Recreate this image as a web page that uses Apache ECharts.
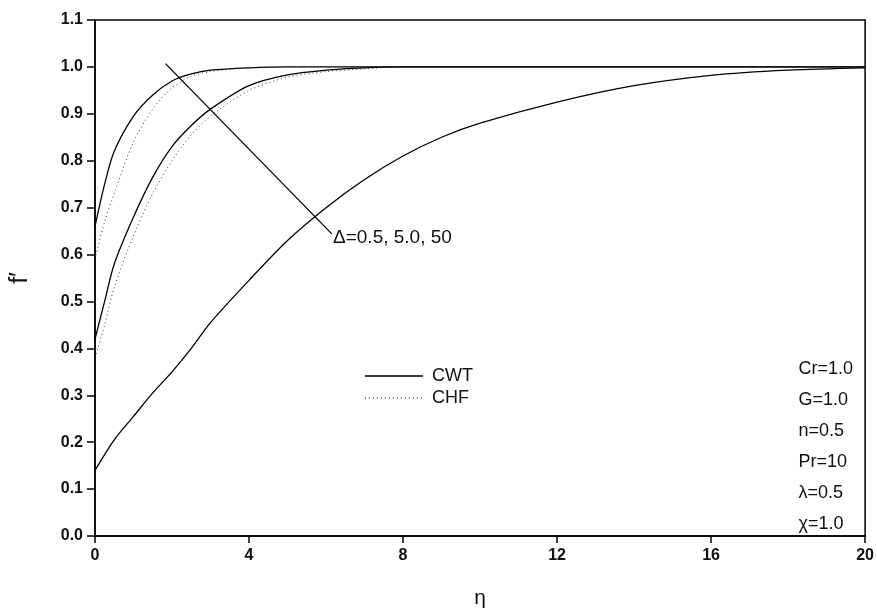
<!DOCTYPE html>
<html>
<head>
<meta charset="utf-8">
<script src="https://cdn.jsdelivr.net/npm/echarts@6/dist/echarts.min.js"></script>
<style>
  html, body { margin: 0; padding: 0; background: #fff; }
  #chart { width: 877px; height: 616px; }
</style>
</head>
<body>
<div id="chart"></div>
<script>
const etaTop = [0, 0.25, 0.5, 1, 1.5, 2, 2.5, 3, 4, 5, 6, 8, 10, 12, 14, 16, 18, 20];
const cwtD05 = [0.66, 0.75, 0.82, 0.895, 0.94, 0.97, 0.985, 0.993, 0.998, 1.0, 1.0, 1.0, 1.0, 1.0, 1.0, 1.0, 1.0, 1.0];
const chfD05 = [0.59, 0.67, 0.73, 0.84, 0.91, 0.955, 0.98, 0.99, 0.998, 1.0, 1.0, 1.0, 1.0, 1.0, 1.0, 1.0, 1.0, 1.0];

const etaMid = [0, 0.25, 0.5, 1, 1.5, 2, 2.5, 3, 4, 5, 6, 7, 8, 10, 12, 14, 16, 18, 20];
const cwtD5 = [0.42, 0.5, 0.58, 0.68, 0.765, 0.83, 0.875, 0.91, 0.96, 0.983, 0.993, 0.998, 1.0, 1.0, 1.0, 1.0, 1.0, 1.0, 1.0];
const chfD5 = [0.38, 0.45, 0.53, 0.64, 0.73, 0.80, 0.855, 0.895, 0.95, 0.978, 0.99, 0.996, 1.0, 1.0, 1.0, 1.0, 1.0, 1.0, 1.0];

const etaLow = [0, 0.5, 1, 1.5, 2, 2.5, 3, 4, 5, 6, 7, 8, 9, 10, 12, 14, 16, 18, 20];
const cwtD50 = [0.14, 0.205, 0.255, 0.305, 0.35, 0.40, 0.455, 0.545, 0.63, 0.70, 0.76, 0.81, 0.85, 0.88, 0.925, 0.96, 0.982, 0.993, 0.998];

const xTicks = [0, 4, 8, 12, 16, 20];
const paramLines = ['Cr=1.0', 'G=1.0', 'n=0.5', 'Pr=10', 'λ=0.5', 'χ=1.0'];
const arrowFrom = [1.83, 1.007];
const arrowTo = [6.15, 0.644];

const FONT = 'Liberation Sans, Arial, sans-serif';

function pairs(xs, ys) {
  return xs.map((x, i) => [x, ys[i]]);
}

function curve(name, xs, ys, dotted) {
  return {
    name: name,
    type: 'line',
    data: pairs(xs, ys),
    showSymbol: false,
    symbol: 'none',
    smooth: 0.3,
    lineStyle: dotted
      ? { color: '#333', width: 1, type: [1, 3] }
      : { color: '#000', width: 1.3 },
    z: dotted ? 3 : 2
  };
}

let chart = echarts.init(document.getElementById('chart'));

let series = [
  curve('CWT', etaTop, cwtD05, false),
  curve('CHF', etaTop, chfD05, true),
  curve('CWT', etaMid, cwtD5, false),
  curve('CHF', etaMid, chfD5, true),
  curve('CWT', etaLow, cwtD50, false)
];

// arrow across the curves
series[0].markLine = {
  silent: true,
  symbol: ['none', 'arrow'],
  symbolSize: [0, 10],
  lineStyle: { color: '#000', width: 1.3, type: 'solid' },
  label: { show: false },
  data: [[{ coord: arrowFrom }, { coord: arrowTo }]]
};

// legend drawn by hand (line sample + text)
let legendX = 365, legendW = 58;
let legendRows = [
  { text: 'CWT', y: 376, dash: null },
  { text: 'CHF', y: 398, dash: [1, 3] }
];
let legendGraphics = [];
legendRows.forEach(row => {
  legendGraphics.push({
    type: 'line',
    shape: { x1: legendX, y1: row.y, x2: legendX + legendW, y2: row.y },
    style: { stroke: '#000', lineWidth: row.dash ? 1 : 1.3, lineDash: row.dash }
  });
  legendGraphics.push({
    type: 'text',
    x: legendX + legendW + 9, y: row.y,
    style: { text: row.text, fontSize: 18, fill: '#111', fontFamily: FONT, verticalAlign: 'middle' }
  });
});

let option = {
  animation: false,
  backgroundColor: '#fff',
  textStyle: { fontFamily: FONT },
  grid: {
    left: 90, right: 11, top: 20, bottom: 80,
    show: true, borderColor: '#000', borderWidth: 1.5
  },
  xAxis: {
    type: 'value',
    min: 0, max: 20, interval: 4,
    name: 'η',
    nameLocation: 'middle',
    nameGap: 52,
    nameTextStyle: { fontSize: 21, color: '#111', fontFamily: FONT },
    axisLine: { show: true, lineStyle: { color: '#000', width: 1.5 } },
    axisTick: { show: true, inside: false, length: 7, lineStyle: { color: '#000', width: 1.5 } },
    axisLabel: {
      fontSize: 16, fontWeight: 'bold', color: '#111', margin: 12, fontFamily: FONT,
      customValues: xTicks
    },
    splitLine: { show: false }
  },
  yAxis: {
    type: 'value',
    min: 0, max: 1.1, interval: 0.1,
    name: 'f′',
    nameLocation: 'middle',
    nameRotate: 90,
    nameGap: 62,
    nameTextStyle: { fontSize: 25, color: '#111', fontFamily: FONT },
    axisLine: { show: true, lineStyle: { color: '#000', width: 1.5 } },
    axisTick: { show: true, inside: false, length: 8, lineStyle: { color: '#000', width: 1.5 } },
    axisLabel: {
      fontSize: 16, fontWeight: 'bold', color: '#111', margin: 12, fontFamily: FONT,
      formatter: v => v.toFixed(1)
    },
    splitLine: { show: false }
  },
  graphic: [
    {
      type: 'text',
      left: 333, top: 228,
      style: { text: 'Δ=0.5, 5.0, 50', fontSize: 19, fill: '#111', fontFamily: FONT }
    },
    {
      type: 'text',
      right: 24, top: 354,
      style: {
        text: paramLines.join('\n'),
        fontSize: 18,
        lineHeight: 31,
        align: 'right',
        fill: '#111',
        fontFamily: FONT
      }
    }
  ].concat(legendGraphics),
  series: series
};

chart.setOption(option);
</script>
</body>
</html>
